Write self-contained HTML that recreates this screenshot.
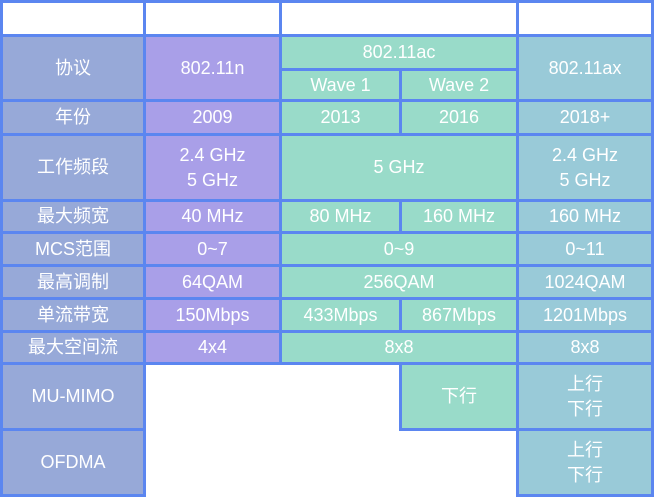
<!DOCTYPE html>
<html><head><meta charset="utf-8"><style>
body{margin:0;width:654px;height:497px;background:#fff;position:relative;overflow:hidden;font-family:"Liberation Sans","Noto Sans CJK SC",sans-serif;}
.c{position:absolute;box-sizing:border-box;border:3px solid #5b86f0;color:#fff;font-size:18px;display:flex;align-items:center;justify-content:center;text-align:center;line-height:25px;}
.h{background:#97a9d8}.n{background:#a99fe8}.a{background:#99dbc9}.x{background:#99cad8}.w{background:#fff}
</style></head><body>
<script>
const X=[0,143,279,399,516,651],Y=[0,34,68,99,133,199,231,264,297,330,362,428,494];
function c(x0,x1,y0,y1,cls,t){document.write(`<div class="c ${cls}" style="left:${X[x0]}px;top:${Y[y0]}px;width:${X[x1]-X[x0]+3}px;height:${Y[y1]-Y[y0]+3}px">${t}</div>`)}
c(0,1,0,1,'w','');c(1,2,0,1,'w','');c(2,4,0,1,'w','');c(4,5,0,1,'w','');
c(0,1,1,3,'h','协议');c(1,2,1,3,'n','802.11n');c(2,4,1,2,'a','802.11ac');c(2,3,2,3,'a','Wave 1');c(3,4,2,3,'a','Wave 2');c(4,5,1,3,'x','802.11ax');
c(0,1,3,4,'h','年份');c(1,2,3,4,'n','2009');c(2,3,3,4,'a','2013');c(3,4,3,4,'a','2016');c(4,5,3,4,'x','2018+');
c(0,1,4,5,'h','工作频段');c(1,2,4,5,'n','2.4 GHz<br>5 GHz');c(2,4,4,5,'a','5 GHz');c(4,5,4,5,'x','2.4 GHz<br>5 GHz');
c(0,1,5,6,'h','最大频宽');c(1,2,5,6,'n','40 MHz');c(2,3,5,6,'a','80 MHz');c(3,4,5,6,'a','160 MHz');c(4,5,5,6,'x','160 MHz');
c(0,1,6,7,'h','MCS范围');c(1,2,6,7,'n','0~7');c(2,4,6,7,'a','0~9');c(4,5,6,7,'x','0~11');
c(0,1,7,8,'h','最高调制');c(1,2,7,8,'n','64QAM');c(2,4,7,8,'a','256QAM');c(4,5,7,8,'x','1024QAM');
c(0,1,8,9,'h','单流带宽');c(1,2,8,9,'n','150Mbps');c(2,3,8,9,'a','433Mbps');c(3,4,8,9,'a','867Mbps');c(4,5,8,9,'x','1201Mbps');
c(0,1,9,10,'h','最大空间流');c(1,2,9,10,'n','4x4');c(2,4,9,10,'a','8x8');c(4,5,9,10,'x','8x8');
c(0,1,10,11,'h','MU-MIMO');c(3,4,10,11,'a','下行');c(4,5,10,11,'x','上行<br>下行');
c(0,1,11,12,'h','OFDMA');c(4,5,11,12,'x','上行<br>下行');
</script>
</body></html>
